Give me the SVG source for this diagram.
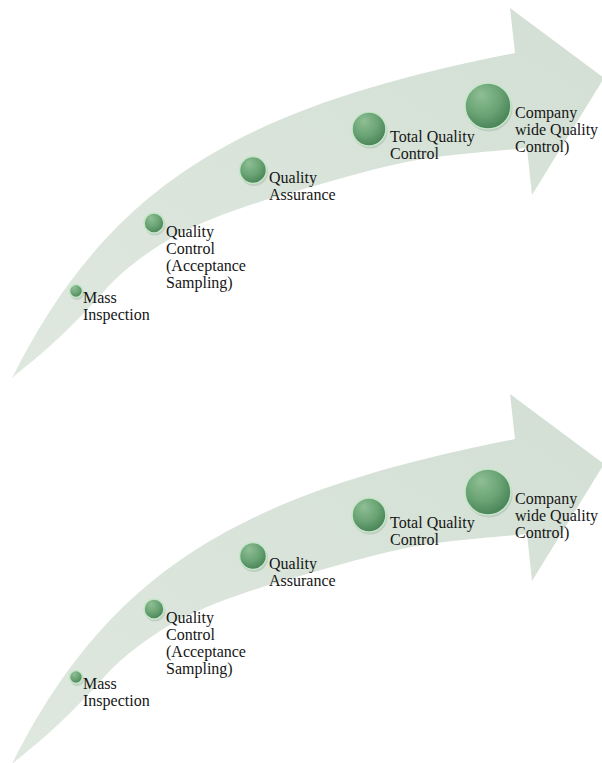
<svg xmlns="http://www.w3.org/2000/svg" width="602" height="763" viewBox="0 0 602 763">
<defs>
  <radialGradient id="ball" cx="0.4" cy="0.35" r="0.65" fx="0.35" fy="0.25">
    <stop offset="0" stop-color="#8fbf95"/>
    <stop offset="0.6" stop-color="#6aa374"/>
    <stop offset="1" stop-color="#4a8559"/>
  </radialGradient>
  <linearGradient id="arrowFill" x1="0" y1="1" x2="1" y2="0">
    <stop offset="0" stop-color="#dfe8df"/>
    <stop offset="1" stop-color="#d3dfd4"/>
  </linearGradient>
  <path id="arrowShape" d="M12 378 C112 178 250 105 515 53 L510 8 L604 78 L532 195 L527 148 C512 149.5 461.5 153.7 437 157 C412.5 160.3 402.8 162.5 380 168 C357.2 173.5 321.7 183.8 300 190 C278.3 196.2 266.7 199.3 250 205 C233.3 210.7 215 217.3 200 224 C185 230.7 173.3 236.5 160 245 C146.7 253.5 132.8 263.5 120 275 C107.2 286.5 94.7 302.2 83 314 C71.3 325.8 61.8 335.3 50 346 C38.2 356.7 18.3 372.7 12 378 Z"/>
</defs>
<style>
  .arrow { fill: url(#arrowFill); }
  .ball { fill: url(#ball); stroke: #c6e6c9; stroke-width: 1.6; }
  .shadow { fill: #9fb3a2; opacity: 0.45; }
  .lbl { font-family: "Liberation Serif", "DejaVu Serif", serif; font-size: 16px; fill: #151515; }
</style>

<g id="diagram1">
  <g id="connectors1">
    <use href="#arrowShape" class="arrow"/>
  </g>
  <g id="d1-mass">
    <circle class="shadow" cx="77" cy="293" r="7"/>
    <circle class="ball" cx="76" cy="291" r="6.5"/>
    <text class="lbl" x="83" y="303">Mass</text>
    <text class="lbl" x="83" y="320">Inspection</text>
  </g>
  <g id="d1-qc">
    <circle class="shadow" cx="155" cy="225" r="10.5"/>
    <circle class="ball" cx="154" cy="223" r="10"/>
    <text class="lbl" x="166" y="237">Quality</text>
    <text class="lbl" x="166" y="254">Control</text>
    <text class="lbl" x="166" y="271">(Acceptance</text>
    <text class="lbl" x="166" y="288">Sampling)</text>
  </g>
  <g id="d1-qa">
    <circle class="shadow" cx="254" cy="172" r="14"/>
    <circle class="ball" cx="253" cy="170" r="13.5"/>
    <text class="lbl" x="269" y="183">Quality</text>
    <text class="lbl" x="269" y="200">Assurance</text>
  </g>
  <g id="d1-tqc">
    <circle class="shadow" cx="370" cy="131" r="17.5"/>
    <circle class="ball" cx="369" cy="129" r="17"/>
    <text class="lbl" x="390" y="142">Total Quality</text>
    <text class="lbl" x="390" y="159">Control</text>
  </g>
  <g id="d1-cwqc">
    <circle class="shadow" cx="489" cy="108" r="23.5"/>
    <circle class="ball" cx="488" cy="106" r="23"/>
    <text class="lbl" x="515" y="118">Company</text>
    <text class="lbl" x="515" y="135">wide Quality</text>
    <text class="lbl" x="515" y="152">Control)</text>
  </g>
</g>

<g id="diagram2" transform="translate(0,386)">
  <g id="connectors2">
    <use href="#arrowShape" class="arrow"/>
  </g>
  <g id="d2-mass">
    <circle class="shadow" cx="77" cy="293" r="7"/>
    <circle class="ball" cx="76" cy="291" r="6.5"/>
    <text class="lbl" x="83" y="303">Mass</text>
    <text class="lbl" x="83" y="320">Inspection</text>
  </g>
  <g id="d2-qc">
    <circle class="shadow" cx="155" cy="225" r="10.5"/>
    <circle class="ball" cx="154" cy="223" r="10"/>
    <text class="lbl" x="166" y="237">Quality</text>
    <text class="lbl" x="166" y="254">Control</text>
    <text class="lbl" x="166" y="271">(Acceptance</text>
    <text class="lbl" x="166" y="288">Sampling)</text>
  </g>
  <g id="d2-qa">
    <circle class="shadow" cx="254" cy="172" r="14"/>
    <circle class="ball" cx="253" cy="170" r="13.5"/>
    <text class="lbl" x="269" y="183">Quality</text>
    <text class="lbl" x="269" y="200">Assurance</text>
  </g>
  <g id="d2-tqc">
    <circle class="shadow" cx="370" cy="131" r="17.5"/>
    <circle class="ball" cx="369" cy="129" r="17"/>
    <text class="lbl" x="390" y="142">Total Quality</text>
    <text class="lbl" x="390" y="159">Control</text>
  </g>
  <g id="d2-cwqc">
    <circle class="shadow" cx="489" cy="108" r="23.5"/>
    <circle class="ball" cx="488" cy="106" r="23"/>
    <text class="lbl" x="515" y="118">Company</text>
    <text class="lbl" x="515" y="135">wide Quality</text>
    <text class="lbl" x="515" y="152">Control)</text>
  </g>
</g>
</svg>
